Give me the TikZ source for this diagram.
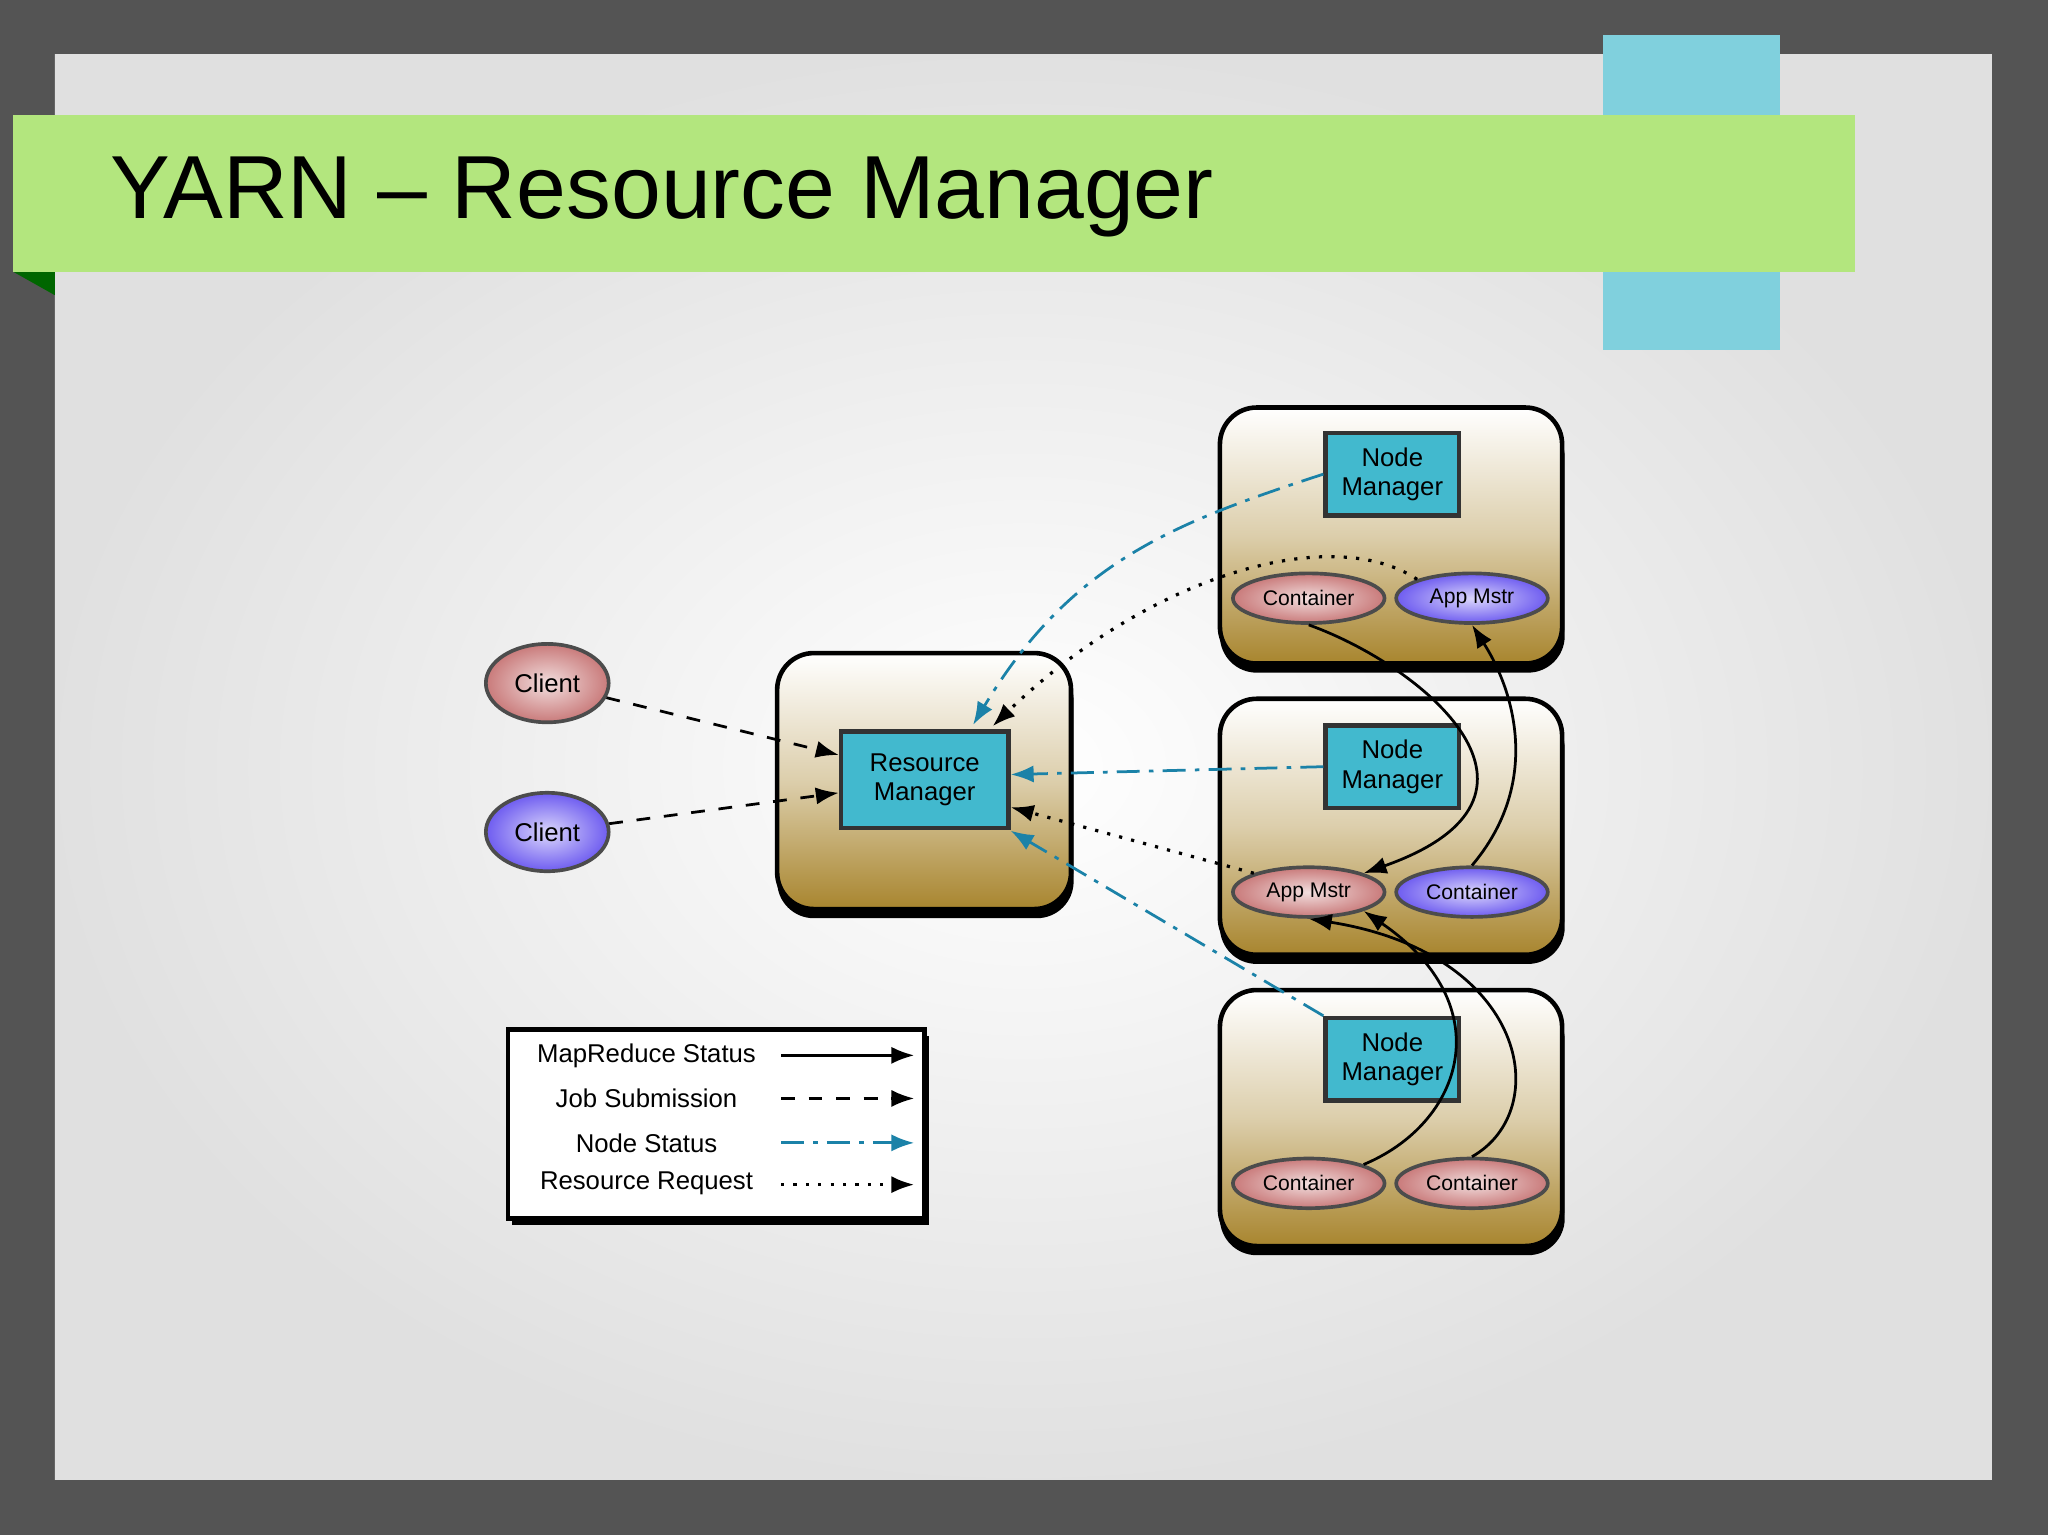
\documentclass[tikz,border=0pt]{standalone}
\usepackage{fontspec}
\setmainfont{Liberation Sans}
\usetikzlibrary{shapes.geometric,arrows.meta,shadows}
\definecolor{gold}{HTML}{A8852E}
\definecolor{nsblue}{HTML}{1B82A8}
\definecolor{pinkE}{HTML}{C97A7A}
\definecolor{purpE}{HTML}{6E5CF0}
\definecolor{banner}{HTML}{B3E67E}
\definecolor{cyanbar}{HTML}{80D0DD}
\tikzset{
 host/.style={rounded corners=8pt,draw=black,line width=1pt,top color=white,bottom color=gold,middle color=gold!40!white},
 hostsh/.style={rounded corners=8pt,fill=black},
 mgr/.style={draw=black!80,line width=1pt,fill=nsblue!70!cyan!80!white,align=center,font=\fontsize{5.6}{6.4}\selectfont,inner sep=1pt},
 pe/.style={ellipse,draw=black!70,line width=0.8pt,inner color=pinkE!25!white,outer color=pinkE,minimum width=1.16cm,minimum height=0.38cm,font=\fontsize{4.6}{5}\selectfont,inner sep=0pt},
 ue/.style={ellipse,draw=black!70,line width=0.8pt,inner color=purpE!25!white,outer color=purpE,minimum width=1.16cm,minimum height=0.38cm,font=\fontsize{4.6}{5}\selectfont,inner sep=0pt},
 cl/.style={ellipse,draw=black!70,line width=0.8pt,minimum width=0.94cm,minimum height=0.6cm,font=\fontsize{5.6}{6.4}\selectfont,inner sep=0pt},
 js/.style={dashed,-{Latex[length=5pt]},line width=0.6pt},
 ns/.style={dash pattern=on 5pt off 2pt on 1pt off 2pt,nsblue,-{Latex[length=5pt]},line width=0.6pt},
 rr/.style={dotted,-{Latex[length=5pt]},line width=0.7pt},
 mr/.style={-{Latex[length=5pt]},line width=0.6pt},
}
\begin{document}
\begin{tikzpicture}[x=0.01cm,y=-0.01cm]
\useasboundingbox (0,0) rectangle (1568,1175);
\fill[black!67] (0,0) rectangle (1568,1175);
\shade[inner color=white,outer color=black!12] (42,42) rectangle (1525,1133);
\fill[cyanbar] (1227,27) rectangle (1363,268);
\fill[green!40!black] (10,208) -- (42,208) -- (42,226) -- cycle;
\fill[banner] (10,88) rectangle (1420,208);
\node[anchor=west,font=\fontsize{19.5}{22}\selectfont] (title) at (72,151) {YARN – Resource Manager};
% hosts
\foreach \y in {312,535,758}{
 \fill[hostsh] (934,\y+10) rectangle (1198,\y+203);
 \draw[host] (934,\y) rectangle (1196,\y+196);
}
\fill[hostsh] (595,508) rectangle (822,703);
\draw[host] (595,500) rectangle (820,696);
\node[mgr,minimum width=1.28cm,minimum height=0.74cm] (rm) at (708,597) {Resource\\Manager};
\node[mgr,minimum width=1.02cm,minimum height=0.63cm] (nm1) at (1066,363) {Node\\Manager};
\node[mgr,minimum width=1.02cm,minimum height=0.63cm] (nm2) at (1066,587) {Node\\Manager};
\node[mgr,minimum width=1.02cm,minimum height=0.63cm] (nm3) at (1066,811) {Node\\Manager};
\node[pe] (c1) at (1002,458) {Container};
\node[ue] (am1) at (1127,458) {App Mstr};
\node[pe] (am2) at (1002,683) {App Mstr};
\node[ue] (c2) at (1127,683) {Container};
\node[pe] (c3) at (1002,906) {Container};
\node[pe] (c4) at (1127,906) {Container};
\node[cl,inner color=pinkE!25!white,outer color=pinkE] (cl1) at (419,523) {Client};
\node[cl,inner color=purpE!25!white,outer color=purpE] (cl2) at (419,637) {Client};
% connectors
\draw[js] (cl1) -- (rm.west |- 0,578);
\draw[js] (cl2) -- (rm.west |- 0,607);
\draw[ns] (nm1.west) .. controls (900,400) and (820,430) .. (745,555);
\draw[rr] (am1.north west) .. controls (1020,400) and (880,440) .. (760,556);
\draw[ns] (nm2.west) -- (rm.east |- 0,593);
\draw[rr] (am2.north west) -- (rm.east |- 0,618);
\draw[ns] (nm3.north west) -- (rm.east |- 0,636);
\draw[mr] (c1.south) .. controls (1090,510) and (1210,610) .. (am2.north east);
\draw[mr] (c2.north) .. controls (1180,600) and (1160,530) .. (am1.south);
\draw[mr] (c3.north east) .. controls (1120,860) and (1150,770) .. (am2.south east);
\draw[mr] (c4.north) .. controls (1190,850) and (1170,730) .. (am2.south);
% legend
\fill[black] (392,793) rectangle (711,938);
\draw[fill=white,line width=1pt] (389,788) rectangle (708,933);
\begin{scope}[font=\fontsize{5.6}{6.4}\selectfont]
\node (l1) at (495,808) {MapReduce Status};
\node (l2) at (495,841) {Job Submission};
\node (l3) at (495,875) {Node Status};
\node (l4) at (495,906) {Resource Request};
\coordinate (a1) at (598,808); \coordinate (b1) at (700,808);
\coordinate (a2) at (598,841); \coordinate (b2) at (700,841);
\coordinate (a3) at (598,875); \coordinate (b3) at (700,875);
\coordinate (a4) at (598,907); \coordinate (b4) at (700,907);
\end{scope}
\draw[mr] (a1) -- (b1);
\draw[js] (a2) -- (b2);
\draw[ns] (a3) -- (b3);
\draw[rr] (a4) -- (b4);
\end{tikzpicture}
\end{document}
